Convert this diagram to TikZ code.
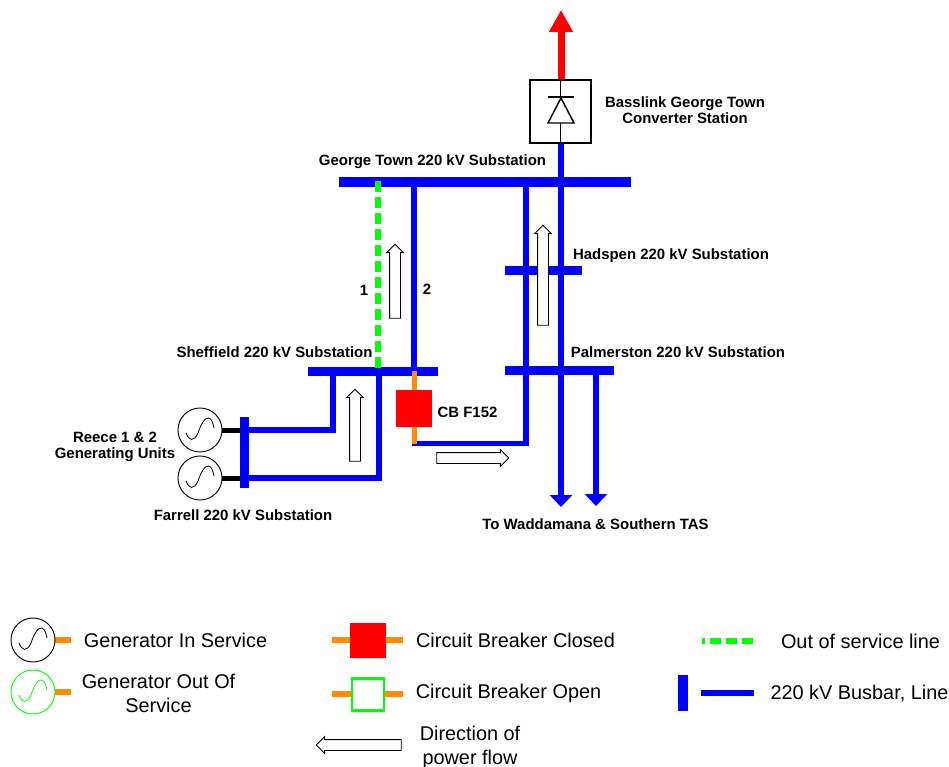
\documentclass[tikz,border=0pt]{standalone}
\usepackage{fontspec}
\setmainfont{Liberation Sans}
\usetikzlibrary{arrows.meta,shapes.arrows,calc}
\definecolor{busblue}{RGB}{0,0,255}
\definecolor{cborange}{RGB}{255,140,0}
\definecolor{offgreen}{RGB}{0,255,0}
\definecolor{cbred}{RGB}{255,0,0}
\tikzset{
  busbar/.style={fill=busblue,draw=none,inner sep=0pt,rectangle},
  feeder/.style={draw=busblue,line width=4pt,line join=miter},
  feederarrow/.style={feeder,-{Triangle[length=9pt,width=16.5pt]}},
  stub/.style={draw=cborange,line width=3.75pt},
  gendrive/.style={draw=black,line width=3.75pt},
  genset/.style={circle,draw=black,fill=white,line width=0.7pt,minimum size=33pt,inner sep=0pt},
  gensetoff/.style={genset,draw=offgreen},
  sinewave/.style={line width=0.6pt},
  flowarrow/.style={single arrow,draw=black,fill=white,line width=0.6pt,inner sep=3.75pt,
    single arrow head extend=2.2pt,single arrow head indent=0pt,minimum width=12pt},
  boldlabel/.style={font=\fontsize{11.2pt}{12.4pt}\selectfont\bfseries,inner sep=0pt,align=center},
  legendlabel/.style={font=\fontsize{14.9pt}{18pt}\selectfont,inner sep=0pt,align=center},
  breaker/.style={rectangle,fill=cbred,draw=none,inner sep=0pt},
  breakeropen/.style={rectangle,fill=white,draw=offgreen,line width=2.2pt,inner sep=0pt},
  deadline/.style={draw=offgreen,line width=4.2pt,dash pattern=on 8.25pt off 3.75pt},
}
\newcommand{\sinewave}[2]{%
  \draw[sinewave,#2] ($(#1)+(-14,3)$) .. controls ($(#1)+(-11,11)$) and ($(#1)+(-6,12)$) .. ($(#1)+(-2,3)$)
    .. controls ($(#1)+(1,-6)$) and ($(#1)+(5,-13)$) .. ($(#1)+(9,-12)$)
    .. controls ($(#1)+(12,-11)$) and ($(#1)+(13,-6)$) .. ($(#1)+(14,-2)$);}
\begin{document}
\begin{tikzpicture}[x=0.75pt,y=-0.75pt]
\useasboundingbox (0,0) rectangle (949,767);
% coordinates
\coordinate (redtip) at (561,10);
\coordinate (hvdcfoot) at (561,143);
\coordinate (hvdcout) at (561,507);
\coordinate (gttwo) at (414,182);
\coordinate (gtthree) at (526,182);
\coordinate (gtone) at (378,181);
\coordinate (shone) at (378,368);
\coordinate (shtwo) at (414,371);
\coordinate (cbcorner) at (414,443.5);
\coordinate (cbline) at (526,443.5);
\coordinate (palmtwo) at (596,371);
\coordinate (palmout) at (596,506);
\coordinate (shleft) at (333,371);
\coordinate (shright) at (379,371);
\coordinate (fupper) at (245,430);
\coordinate (flower) at (245,478);
% lines behind busbars
\draw[feederarrow] (hvdcfoot) -- (hvdcout);
\draw[feeder] (gttwo) -- (shtwo);
\draw[feeder] (gtthree) -- (cbline) -- ($(cbcorner)+(-2,0)$);
\draw[feederarrow] (palmtwo) -- (palmout);
\draw[feeder] (shleft) -- (shleft |- fupper) -- (fupper);
\draw[feeder] (shright) -- (shright |- flower) -- (flower);
% busbars
\node[busbar,minimum width=219pt,minimum height=7.5pt] (georgetown) at (485,182) {};
\node[busbar,minimum width=57.75pt,minimum height=6.75pt] (hadspen) at (543.5,270.5) {};
\node[busbar,minimum width=81.75pt,minimum height=6.75pt] (palmerston) at (559.5,370.5) {};
\node[busbar,minimum width=97.5pt,minimum height=6.75pt] (sheffield) at (373,371.5) {};
% out of service line
\draw[deadline] (gtone) -- (shone);
% converter
\draw[draw=cbred,line width=5.25pt,-{Triangle[length=16.5pt,width=17pt]}] (561,80) -- (redtip);
\node[rectangle,draw=black,fill=white,line width=1.1pt,minimum width=45.75pt,minimum height=47.25pt,inner sep=0pt] (converter) at (560.5,111.5) {};
\draw[line width=0.8pt] (converter.north) -- (converter.south);
\draw[line width=1.1pt,fill=white,line join=miter] (561,98) -- (548,123) -- (574,123) -- cycle;
\draw[line width=1.1pt] (548,97) -- (574,97);
% breaker
\draw[stub] (shtwo) -- (cbcorner);
\node[breaker,minimum width=27pt,minimum height=27.75pt] (cbf) at (414,408.5) {};
% generators
\node[genset] (reece) at (200,430) {};
\node[genset] (reecetwo) at (200,478) {};
\draw[gendrive] (reece) -- (fupper);
\draw[gendrive] (reecetwo) -- (flower);
\node[busbar,minimum width=6.75pt,minimum height=53.25pt] (farrell) at (244.5,452.5) {};
\sinewave{reece}{black}
\sinewave{reecetwo}{black}
% flow arrows
\node[flowarrow,rotate=90,minimum height=55.5pt] (flowA) at (395,284) {};
\node[flowarrow,rotate=90,minimum height=54pt] (flowB) at (355,428) {};
\node[flowarrow,rotate=90,minimum height=75pt] (flowC) at (543,278) {};
\node[flowarrow,minimum height=54pt] (flowD) at (470,458) {};
% labels
\node[boldlabel] (lbasslink) at (685,110) {Basslink George Town\\Converter Station};
\node[boldlabel] (lgt) at (432.5,162) {George Town 220 kV Substation};
\node[boldlabel] (lhad) at (671,256) {Hadspen 220 kV Substation};
\node[boldlabel] (lpalm) at (678,352) {Palmerston 220 kV Substation};
\node[boldlabel] (lshef) at (274.5,352) {Sheffield 220 kV Substation};
\node[boldlabel] (lone) at (364,290) {1};
\node[boldlabel] (ltwo) at (427,289) {2};
\node[boldlabel] (lcb) at (467.5,412) {CB F152};
\node[boldlabel] (lreece) at (115,447) {Reece 1 \& 2\\Generating Units};
\node[boldlabel] (lfar) at (243,515) {Farrell 220 kV Substation};
\node[boldlabel] (lwad) at (595.5,524) {To Waddamana \& Southern TAS};
% legend
\coordinate (lgA) at (33,640);
\coordinate (lgAe) at (71,640);
\draw[stub,line width=4.5pt] (lgA) -- (lgAe);
\node[genset] (legon) at (lgA) {};
\sinewave{legon}{black}
\coordinate (lgB) at (33,692);
\coordinate (lgBe) at (71,692);
\draw[stub,line width=4.5pt] (lgB) -- (lgBe);
\node[gensetoff] (legoff) at (lgB) {};
\sinewave{legoff}{offgreen}
\node[legendlabel] (tgon) at (175.5,640) {Generator In Service};
\node[legendlabel] (tgoff) at (158.5,693) {Generator Out Of\\Service};
\coordinate (lcA) at (332,640);
\coordinate (lcAe) at (403,640);
\draw[stub,line width=4.5pt] (lcA) -- (lcAe);
\node[breaker,minimum width=27pt,minimum height=26.25pt] (legclosed) at (368,640) {};
\node[legendlabel] (tclosed) at (515.5,640) {Circuit Breaker Closed};
\coordinate (lcB) at (332,694);
\coordinate (lcBe) at (403,694);
\draw[stub,line width=4.5pt] (lcB) -- (lcBe);
\node[breakeropen,minimum width=24pt,minimum height=23.5pt] (legopen) at (368,694.5) {};
\node[legendlabel] (topen) at (508.5,693) {Circuit Breaker Open};
\node[flowarrow,rotate=180,minimum height=63.75pt] (legflow) at (361.5,745) {};
\node[legendlabel] (tflow) at (470,747) {Direction of\\power flow};
\coordinate (ldA) at (702,641);
\coordinate (ldB) at (754,641);
\draw[deadline,dash phase=6pt] (ldA) -- (ldB);
\node[legendlabel] (tdead) at (860.5,641) {Out of service line};
\node[busbar,minimum width=7.5pt,minimum height=27pt] (legbus) at (683,693) {};
\coordinate (llA) at (701,693);
\coordinate (llB) at (754,693);
\draw[feeder,line width=4.5pt] (llA) -- (llB);
\node[legendlabel] (tbus) at (859.5,694) {220 kV Busbar, Line};
\end{tikzpicture}
\end{document}
